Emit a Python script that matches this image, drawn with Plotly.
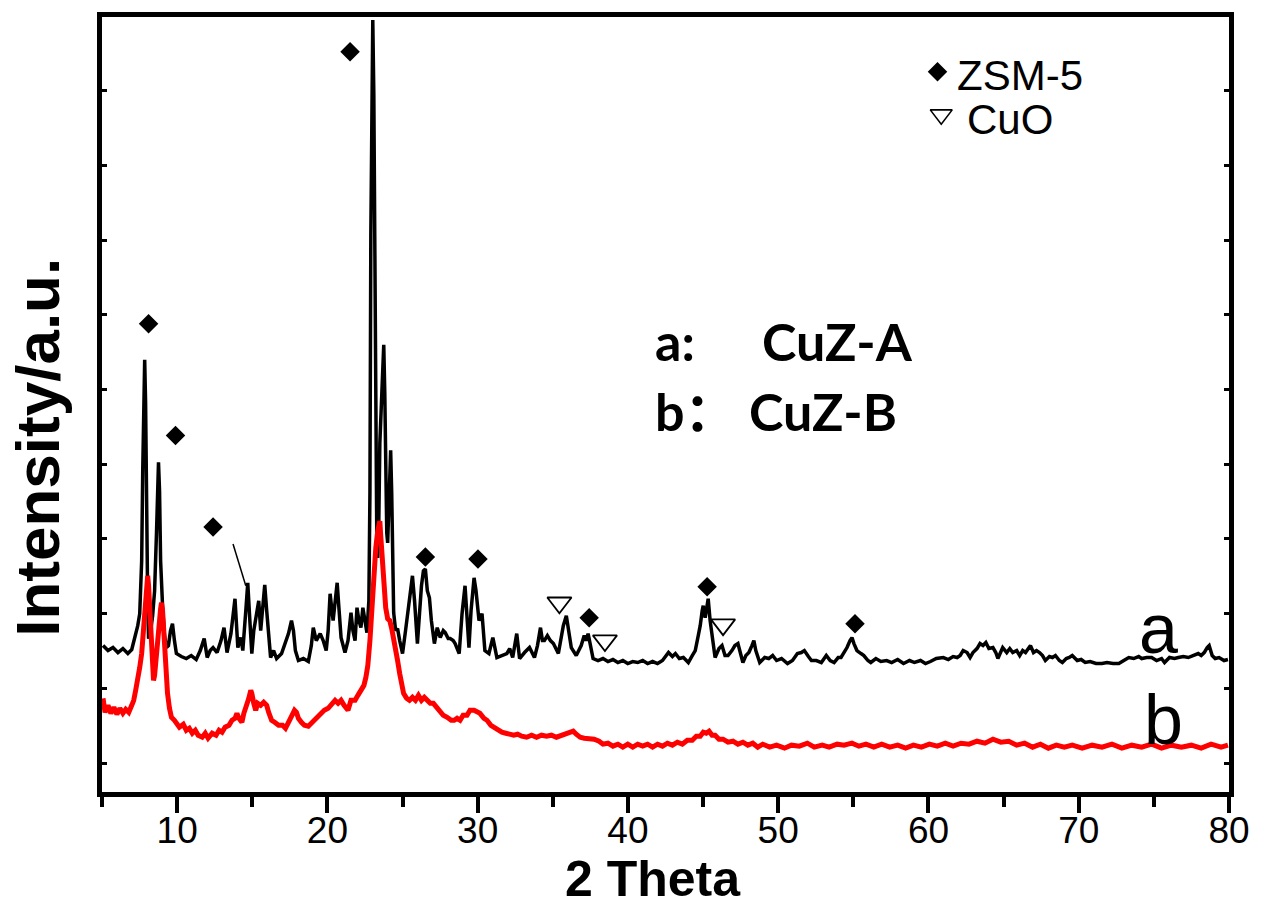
import plotly.graph_objects as go

# ---------------- data (2θ in degrees, intensity in a.u.) ----------------
theta_a = [5.07, 5.40, 5.73, 6.06, 6.39, 6.72, 6.98, 7.18, 7.38, 7.51, 7.64, 7.71, 7.77, 7.84, 7.90, 7.97, 8.04, 8.10,
           8.24, 8.37, 8.50, 8.63, 8.70, 8.76, 8.83, 8.90, 9.03, 9.16, 9.29, 9.42, 9.56, 9.69, 9.82, 9.95,
           10.28, 10.61, 10.94, 11.27, 11.54, 11.80, 12.00, 12.20, 12.39, 12.66, 12.92, 13.12, 13.32, 13.58, 13.85,
           14.04, 14.24, 14.37, 14.57, 14.70, 14.84, 14.97, 15.10, 15.23, 15.43, 15.56, 15.70, 15.83, 15.96, 16.09,
           16.22, 16.42, 16.62, 16.95, 17.21, 17.41, 17.61, 17.74, 17.87, 18.07, 18.40, 18.73, 18.93, 19.06, 19.26,
           19.52, 19.72, 19.92, 20.05, 20.18, 20.38, 20.51, 20.65, 20.78, 20.91, 21.17, 21.37, 21.57, 21.70, 21.84,
           21.97, 22.10, 22.23, 22.36, 22.49, 22.63, 22.76, 22.83, 22.89, 22.96, 23.02, 23.09, 23.16, 23.22, 23.29,
           23.35, 23.42, 23.49, 23.55, 23.62, 23.68, 23.75, 23.82, 23.88, 23.95, 24.01, 24.08, 24.15, 24.21, 24.28,
           24.34, 24.41, 24.54, 24.67, 24.81, 25.00, 25.20, 25.33, 25.46, 25.66, 25.80, 25.99, 26.12, 26.26, 26.39,
           26.52, 26.65, 26.79, 26.92, 27.12, 27.31, 27.51, 27.71, 27.84, 28.04, 28.17, 28.37, 28.50, 28.77, 28.96,
           29.16, 29.29, 29.42, 29.56, 29.76, 29.89, 30.09, 30.29, 30.48, 30.75, 31.01, 31.28, 31.61, 31.94, 32.13,
           32.33, 32.60, 32.79, 33.12, 33.45, 33.78, 33.98, 34.18, 34.31, 34.44, 34.64, 34.84, 35.04, 35.37, 35.57,
           35.70, 35.90, 36.03, 36.23, 36.56, 36.89, 37.09, 37.22, 37.35, 37.48, 37.68, 38.01, 38.34, 38.67, 39.00,
           39.33, 39.66, 39.99, 40.32, 40.65, 40.98, 41.31, 41.64, 41.97, 42.30, 42.70, 42.96, 43.16, 43.42, 43.69,
           44.02, 44.28, 44.48, 44.68, 44.81, 44.94, 45.01, 45.14, 45.27, 45.34, 45.47, 45.60, 45.80, 46.06, 46.26,
           46.46, 46.66, 46.92, 47.12, 47.32, 47.45, 47.65, 47.85, 48.05, 48.25, 48.38, 48.51, 48.77, 49.10, 49.37,
           49.63, 49.89, 50.22, 50.62, 50.95, 51.28, 51.54, 51.74, 52.01, 52.21, 52.54, 52.87, 53.20, 53.46, 53.72,
           53.99, 54.18, 54.38, 54.58, 54.78, 54.91, 55.04, 55.24, 55.51, 55.70, 55.97, 56.16, 56.50, 56.83, 57.22,
           57.55, 57.95, 58.34, 58.74, 59.07, 59.47, 59.80, 60.13, 60.52, 60.99, 61.32, 61.64, 61.91, 62.11, 62.31,
           62.57, 62.77, 62.96, 63.23, 63.43, 63.63, 63.82, 64.02, 64.29, 64.48, 64.62, 64.81, 64.94, 65.21, 65.41,
           65.61, 65.87, 66.07, 66.27, 66.46, 66.66, 66.79, 66.99, 67.19, 67.39, 67.59, 67.78, 68.05, 68.25, 68.45,
           68.71, 68.91, 69.17, 69.37, 69.57, 69.90, 70.16, 70.43, 70.76, 71.15, 71.55, 71.88, 72.28, 72.67, 73.00,
           73.33, 73.66, 73.99, 74.19, 74.52, 74.85, 75.18, 75.51, 75.71, 76.04, 76.37, 76.63, 76.96, 77.29, 77.62,
           77.95, 78.15, 78.35, 78.55, 78.68, 78.88, 79.08, 79.34, 79.67, 79.93]
intensity_a = [147, 142, 145, 140, 144, 139, 143, 155, 167, 179, 232, 322, 412, 434, 392, 272, 192, 154,
               162, 177, 202, 262, 312, 331, 302, 232, 187, 157, 145, 147, 162, 169, 152, 139,
               136, 134, 137, 133, 142, 154, 135, 142, 145, 140, 152, 165, 140, 159, 194,
               145, 155, 142, 182, 210, 172, 139, 162, 172, 192, 162, 182, 208, 182, 152,
               135, 142, 134, 139, 149, 159, 172, 162, 142, 132, 134, 131, 147, 165, 152,
               159, 152, 142, 162, 199, 172, 192, 210, 182, 155, 140, 152, 180, 162, 152,
               185, 172, 165, 185, 172, 160, 192, 300, 560, 740, 775, 700, 480, 300, 245,
               235, 270, 350, 379, 400, 440, 449, 400, 320, 260, 250, 290, 330, 343, 300,
               230, 180, 162, 164, 152, 139, 162, 179, 192, 217, 192, 149, 177, 207, 222,
               224, 202, 195, 172, 149, 165, 155, 162, 160, 154, 154, 152, 149, 139, 179,
               207, 172, 145, 182, 215, 202, 172, 179, 142, 139, 155, 135, 137, 139, 144,
               135, 159, 134, 140, 145, 135, 147, 165, 152, 152, 157, 152, 149, 139, 159,
               167, 177, 162, 145, 137, 147, 157, 152, 159, 147, 134, 132, 134, 131, 133,
               130, 132, 129, 131, 130, 132, 129, 131, 129, 132, 140, 136, 139, 134, 135,
               130, 137, 142, 157, 167, 182, 187, 175, 187, 194, 172, 155, 135, 144, 147,
               137, 137, 142, 147, 149, 142, 130, 137, 140, 147, 152, 142, 130, 135, 134,
               137, 132, 134, 129, 132, 139, 140, 142, 136, 132, 132, 130, 137, 132, 130,
               135, 135, 140, 145, 152, 155, 149, 142, 139, 137, 132, 130, 134, 131, 132,
               130, 133, 129, 132, 130, 132, 129, 131, 134, 135, 133, 136, 135, 137, 142,
               140, 135, 140, 144, 149, 147, 150, 144, 145, 140, 134, 142, 145, 140, 144,
               140, 142, 137, 142, 140, 144, 147, 140, 142, 140, 137, 132, 136, 135, 137,
               132, 130, 134, 135, 137, 132, 133, 130, 131, 129, 129, 130, 129, 129, 132,
               135, 134, 136, 134, 135, 135, 132, 134, 130, 135, 134, 135, 136, 135, 137,
               139, 137, 140, 145, 147, 137, 134, 135, 132, 133]

theta_b = [5.07, 5.20, 5.40, 5.59, 5.79, 5.99, 6.19, 6.39, 6.58, 6.78, 6.98, 7.11, 7.24, 7.38, 7.51, 7.64, 7.77,
           7.84, 7.90, 7.97, 8.04, 8.10, 8.17, 8.30, 8.37, 8.43, 8.50, 8.57, 8.70, 8.83, 8.90, 8.96, 9.03, 9.09,
           9.16, 9.23, 9.36, 9.49, 9.62, 9.82, 9.95, 10.15, 10.41, 10.61, 10.81, 11.01, 11.21, 11.40, 11.67, 11.87,
           12.06, 12.33, 12.59, 12.79, 12.99, 13.19, 13.45, 13.65, 13.85, 13.98, 14.11, 14.31, 14.44, 14.64, 14.77,
           14.90, 14.97, 15.10, 15.23, 15.36, 15.56, 15.76, 15.96, 16.09, 16.29, 16.49, 16.75, 17.02, 17.21, 17.41,
           17.61, 17.81, 17.94, 18.07, 18.27, 18.47, 18.73, 19.00, 19.26, 19.52, 19.79, 20.05, 20.32, 20.51, 20.71,
           20.91, 21.11, 21.37, 21.57, 21.84, 22.03, 22.23, 22.43, 22.56, 22.69, 22.83, 22.96, 23.02, 23.09, 23.22,
           23.35, 23.42, 23.49, 23.55, 23.62, 23.68, 23.75, 23.88, 24.01, 24.15, 24.28, 24.41, 24.54, 24.67, 24.81,
           24.94, 25.07, 25.27, 25.46, 25.66, 25.86, 26.06, 26.26, 26.45, 26.65, 26.85, 27.05, 27.31, 27.51, 27.71,
           27.97, 28.24, 28.44, 28.63, 28.83, 29.03, 29.29, 29.49, 29.76, 29.96, 30.15, 30.42, 30.62, 30.88, 31.08,
           31.34, 31.61, 31.87, 32.13, 32.40, 32.66, 32.93, 33.26, 33.59, 33.92, 34.25, 34.58, 34.91, 35.24, 35.57,
           35.90, 36.16, 36.36, 36.56, 36.82, 37.09, 37.42, 37.75, 38.08, 38.34, 38.67, 39.00, 39.33, 39.66, 39.99,
           40.32, 40.65, 40.98, 41.31, 41.64, 41.97, 42.30, 42.63, 42.96, 43.29, 43.62, 43.95, 44.28, 44.55, 44.81,
           45.01, 45.21, 45.40, 45.60, 45.80, 46.06, 46.33, 46.66, 46.99, 47.32, 47.65, 47.98, 48.31, 48.64, 48.97,
           49.43, 49.89, 50.42, 50.88, 51.41, 51.94, 52.40, 52.93, 53.39, 53.92, 54.38, 54.91, 55.37, 55.84, 56.36,
           56.89, 57.42, 57.95, 58.48, 59.00, 59.53, 60.06, 60.59, 61.12, 61.64, 62.17, 62.70, 63.23, 63.76, 64.29,
           64.81, 65.34, 65.87, 66.40, 66.93, 67.45, 67.98, 68.51, 69.04, 69.57, 70.23, 70.89, 71.55, 72.21, 72.87,
           73.53, 74.19, 74.85, 75.51, 76.17, 76.83, 77.49, 78.15, 78.81, 79.47, 79.93]
intensity_b = [94, 80, 87, 79, 85, 78, 84, 79, 83, 80, 87, 92, 102, 112, 125, 139, 167,
               185, 202, 214, 217, 207, 187, 162, 132, 112, 117, 132, 147, 172, 184, 190, 182, 162,
               145, 122, 99, 84, 75, 72, 69, 65, 68, 62, 64, 59, 62, 57, 55, 59,
               54, 59, 57, 62, 60, 65, 67, 72, 74, 79, 74, 70, 79, 87, 94,
               102, 99, 89, 82, 89, 87, 90, 87, 80, 72, 70, 67, 67, 64, 70,
               76, 82, 80, 74, 70, 67, 66, 70, 74, 77, 82, 84, 90, 92, 89,
               92, 87, 82, 92, 92, 97, 102, 107, 115, 127, 152, 187, 212, 227, 245,
               262, 270, 272, 257, 237, 219, 202, 185, 174, 172, 164, 155, 145, 132, 119,
               107, 99, 94, 92, 95, 92, 97, 92, 95, 92, 89, 89, 84, 82, 77,
               75, 72, 72, 74, 72, 77, 77, 82, 82, 80, 79, 74, 72, 67, 65,
               62, 60, 59, 58, 57, 58, 56, 55, 57, 55, 57, 56, 57, 55, 57,
               59, 61, 61, 58, 55, 54, 54, 53, 51, 48, 49, 46, 48, 45, 48,
               45, 48, 46, 48, 45, 48, 46, 49, 47, 50, 48, 52, 52, 56, 56,
               60, 59, 61, 57, 57, 53, 53, 50, 51, 48, 50, 47, 49, 45, 48,
               45, 47, 44, 47, 46, 49, 45, 47, 45, 48, 47, 49, 46, 48, 45,
               48, 45, 47, 44, 47, 45, 48, 46, 49, 46, 49, 48, 51, 49, 53,
               50, 51, 47, 49, 45, 48, 44, 47, 45, 47, 44, 47, 45, 48, 44,
               47, 45, 48, 44, 47, 45, 47, 44, 48, 45, 47]

# peak identification marks
zsm5_theta = [8.10, 9.89, 12.39, 21.51, 26.52, 30.02, 37.42, 45.27, 55.11]
zsm5_mark_y = [470, 358, 266, 743, 236, 234, 175, 206, 169]
cuo_theta = [35.44, 38.47, 46.33]
cuo_mark_y = [190, 152, 168]
pointer_theta = [13.72, 14.57]
pointer_y = [249, 207]

x_ticks = [10, 20, 30, 40, 50, 60, 70, 80]
x_tick_text = ["10", "20", "30", "40", "50", "60", "70", "80"]

fig = go.Figure()
fig.add_trace(go.Scatter(x=theta_a, y=intensity_a, mode="lines",
                         line=dict(color="black", width=3.5), showlegend=False, hoverinfo="skip"))
fig.add_trace(go.Scatter(x=theta_b, y=intensity_b, mode="lines",
                         line=dict(color="#ff0000", width=5), showlegend=False, hoverinfo="skip"))
fig.add_trace(go.Scatter(x=zsm5_theta, y=zsm5_mark_y, mode="markers",
                         marker=dict(symbol="diamond", size=15, color="black", line=dict(width=0)),
                         showlegend=False, hoverinfo="skip"))
fig.add_trace(go.Scatter(x=cuo_theta, y=cuo_mark_y, mode="markers",
                         marker=dict(symbol="triangle-down-open", size=21, color="black", line=dict(width=1.8)),
                         showlegend=False, hoverinfo="skip"))
fig.add_trace(go.Scatter(x=pointer_theta, y=pointer_y, mode="lines",
                         line=dict(color="black", width=1.5), showlegend=False, hoverinfo="skip"))
# key symbols (top right)
fig.add_trace(go.Scatter(x=[60.6], y=[723], mode="markers",
                         marker=dict(symbol="diamond", size=15, color="black", line=dict(width=0)),
                         showlegend=False, hoverinfo="skip"))
fig.add_trace(go.Scatter(x=[60.85], y=[680], mode="markers",
                         marker=dict(symbol="triangle-down-open", size=19, color="black", line=dict(width=1.6)),
                         showlegend=False, hoverinfo="skip"))

ann = []
ann.append(dict(x=61.75, y=719, xref="x", yref="y", text="ZSM-5", showarrow=False, xanchor="left",
                yanchor="middle", font=dict(family="Liberation Sans, Arial", size=42, color="black")))
ann.append(dict(x=62.4, y=675, xref="x", yref="y", text="CuO", showarrow=False, xanchor="left",
                yanchor="middle", font=dict(family="Liberation Sans, Arial", size=42, color="black")))
bold_font = dict(family="Lato, Noto Sans CJK SC", size=52, color="black")
ann.append(dict(x=41.7, y=453, xref="x", yref="y", text="<b>a:</b>", showarrow=False, xanchor="left",
                yanchor="middle", font=bold_font))
ann.append(dict(x=48.8, y=453, xref="x", yref="y", text="<b>CuZ-A</b>", showarrow=False, xanchor="left",
                yanchor="middle", font=bold_font))
ann.append(dict(x=41.7, y=382, xref="x", yref="y", text="<b>b：</b>", showarrow=False, xanchor="left",
                yanchor="middle", font=bold_font))
ann.append(dict(x=47.9, y=382, xref="x", yref="y", text="<b>CuZ-B</b>", showarrow=False, xanchor="left",
                yanchor="middle", font=bold_font))
ann.append(dict(x=75.3, y=164, xref="x", yref="y", text="a", showarrow=False, xanchor="center",
                yanchor="middle", font=dict(family="Liberation Sans, Arial", size=70, color="black")))
ann.append(dict(x=75.65, y=72, xref="x", yref="y", text="b", showarrow=False, xanchor="center",
                yanchor="middle", font=dict(family="Liberation Sans, Arial", size=70, color="black")))
# axis titles
ann.append(dict(x=0.4886, y=-0.1515, xref="paper", yref="paper", text="<b>2 Theta</b>", showarrow=False,
                xanchor="center", yanchor="bottom",
                font=dict(family="Liberation Sans, Arial", size=50, color="black")))
ann.append(dict(x=-0.058, y=0.445, xref="paper", yref="paper", text="<b>Intensity/a.u.</b>", showarrow=False,
                xanchor="center", yanchor="middle", textangle=-90,
                font=dict(family="Liberation Sans, Arial", size=62, color="black")))

fig.update_layout(
    width=1262, height=910,
    margin=dict(l=102, r=24, t=14, b=118),
    paper_bgcolor="white", plot_bgcolor="white",
    annotations=ann,
    xaxis=dict(range=[5, 80], tickmode="array", tickvals=x_ticks, ticktext=x_tick_text,
               ticks="outside", ticklen=16, tickwidth=4, tickcolor="black",
               showline=True, linewidth=5, linecolor="black", mirror=True,
               showgrid=False, zeroline=False, ticklabelstandoff=-14,
               tickfont=dict(family="Liberation Sans, Arial", size=37, color="black"),
               minor=dict(ticks="outside", ticklen=10, tickwidth=4, tickcolor="black", tick0=5, dtick=5,
                          showgrid=False)),
    yaxis=dict(range=[0, 778], tick0=29, dtick=75, ticks="inside", ticklen=5, tickwidth=3,
               tickcolor="black", showticklabels=False,
               showline=True, linewidth=5, linecolor="black", mirror="ticks",
               showgrid=False, zeroline=False),
)

fig.write_html("out.html")
